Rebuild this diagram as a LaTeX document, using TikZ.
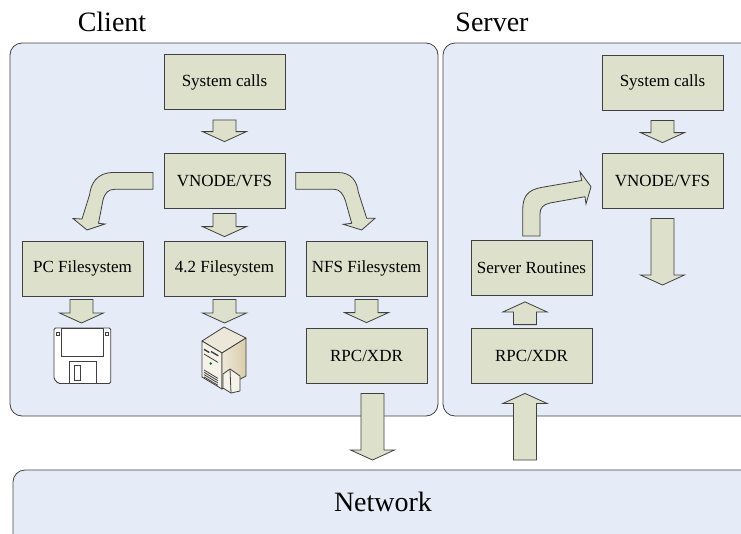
\documentclass[tikz,border=0pt]{standalone}
\usepackage{fontspec}
\setmainfont{Liberation Serif}
\usetikzlibrary{calc}
\definecolor{panelbg}{RGB}{230,236,247}
\definecolor{boxbg}{RGB}{221,224,203}
\definecolor{edge}{RGB}{64,64,64}
\definecolor{twfront}{RGB}{245,242,234}
\definecolor{twtop}{RGB}{236,231,216}
\definecolor{twside}{RGB}{218,205,172}
\newcommand{\barr}[4]
{
	\coordinate (as) at ($(#1)+(#2)$);
	\coordinate (ae) at ($(#3)+(#4)$);
	\coordinate (ah) at ($(ae)!10pt!(as)$);
	\draw[arrbody] ($(as)!11.5pt!90:(ae)$) -- ($(ah)!11.5pt!-90:(as)$) -- ($(ah)!22pt!-90:(as)$) -- (ae)
		-- ($(ah)!22pt!90:(as)$) -- ($(ah)!11.5pt!90:(as)$) -- ($(as)!11.5pt!-90:(ae)$) -- cycle;
}
\tikzset{
	panel/.style={draw=edge, fill=panelbg, rounded corners=12pt, line width=0.8pt},
	blk/.style={draw=edge, fill=boxbg, line width=0.8pt, minimum width=121pt, minimum height=55pt, inner sep=0pt, font=\fontsize{17}{20}\selectfont},
	arrbody/.style={draw=edge, fill=boxbg, line width=0.8pt, line join=miter},
	title/.style={font=\fontsize{28}{32}\selectfont}
}

\begin{document}
\begin{tikzpicture}[x=1pt,y=-1pt]
	\useasboundingbox (0,0) rectangle (741,533);
	\clip (0,0) rectangle (741,533);
	% panels
	\draw[panel] (10,43) rectangle (438,416);
	\draw[panel] (443,43) rectangle (770,416);
	\draw[panel] (13,470) rectangle (770,570);
	\node[title] (client) at (112,22) {Client};
	\node[title] (server) at (492,22) {Server};
	\node[title] (net) at (383,502) {Network};
	\coordinate (nettop) at (383,470);
	% client side
	\node[blk] (csys) at (224.5,82) {System calls};
	\node[blk] (cvfs) at (224.5,180.5) {VNODE/VFS};
	\node[blk] (cpc) at (82.5,268.5) {PC Filesystem};
	\node[blk] (cfs) at (224.5,268.5) {4.2 Filesystem};
	\node[blk] (cnfs) at (366.5,268.5) {NFS Filesystem};
	\node[blk] (crpc) at (366.5,355.5) {RPC/XDR};
	\coordinate (floppy) at (81.5,328);
	\coordinate (tower) at (224.5,328);
	% server side
	\node[blk] (ssys) at (662.5,82.5) {System calls};
	\node[blk] (svfs) at (662.5,180.5) {VNODE/VFS};
	\node[blk] (sroute) at (531.5,267.5) {Server Routines};
	\node[blk] (srpc) at (531.5,355.5) {RPC/XDR};
	\coordinate (sout) at (662.5,285);
	% straight arrows
	\barr{csys.south}{0,10}{cvfs.north}{0,-11}
	\barr{cvfs.south}{0,5}{cfs.north}{0,-4}
	\barr{cpc.south}{-1,3}{floppy}{0,-5}
	\barr{cfs.south}{0,3}{tower}{0,-5}
	\barr{cnfs.south}{0,3}{crpc.north}{0,-5}
	\barr{crpc.south}{6,10}{crpc.south |- nettop}{6,-10}
	\barr{srpc.south |- nettop}{-6.5,-10}{srpc.south}{-6.5,10}
	\barr{srpc.north}{-6.5,-3}{sroute.south}{-6.5,6.5}
	\barr{ssys.south}{0,10}{svfs.north}{0,-10}
	\barr{svfs.south}{0,10}{sout}{0,0}
	% bent arrows
	\draw[arrbody] (153,172.5) -- (114,172.5) .. controls (96,172.5) and (91,184) .. (89.5,195) -- (82,219)
		-- (73,218.5) -- (87,230) -- (105,224) -- (98.5,223.3) -- (103,200)
		.. controls (105,193) and (108,189.3) .. (115,189.3) -- (153,189.3) -- cycle;
	\draw[arrbody] (295.7,172.5) -- (338,172.5) .. controls (352,172.5) and (357,182) .. (358.3,192) -- (366.7,218.3)
		-- (375,218.3) -- (361.7,230) -- (343.3,224.3) -- (351.7,223.3) -- (345.5,201)
		.. controls (343,194) and (340,189.3) .. (334,189.3) -- (295.7,189.3) -- cycle;
	\draw[arrbody] (522.7,236) -- (522.7,210) .. controls (522.7,196) and (528,190) .. (541,187.5) -- (581.7,180.5)
		-- (580,171.7) -- (591,186.7) -- (586,204) -- (585,196.7) -- (550,203)
		.. controls (543,204.5) and (540,208) .. (540,214) -- (540,236) -- cycle;
	% floppy
	\begin{scope}[draw=edge, line width=0.9pt]
		\draw[fill=white, rounded corners=1.5pt] (54,328) -- (110.7,328) -- (110.7,383.5) -- (58.3,383.5) -- (54,379) -- cycle;
		\draw (61,328) rectangle (103.3,356);
		\draw (56.7,332.3) rectangle (59.7,335.6);
		\draw (105,332.3) rectangle (108,335.6);
		\draw (69.3,361.7) rectangle (96,383.5);
		\draw (74.3,365.7) rectangle (80.7,380);
	\end{scope}
	% tower
	\begin{scope}[draw=edge, line width=0.8pt, line join=round]
		\draw[fill=twtop] (202,341) -- (224,327) -- (246,338) -- (222,353) -- cycle;
		\draw[fill=twfront] (202,341) -- (222,353) -- (222,389) -- (202,377) -- cycle;
		\draw[left color=twtop, right color=twside] (222,353) -- (246,338) -- (246,376) -- (222,389) -- cycle;
		\draw[fill=twfront] (223,374) -- (230,369) -- (240,376) -- (240,391) -- (231,393) -- (223,388) -- cycle;
		\draw (230,369) -- (231,393);
		\draw[line width=1.4pt] (204,349.3) -- (209.3,352.5);
		\draw[line width=1.4pt] (211,351.5) -- (218.3,355.8);
		\draw (204,354) -- (218,362.4);
		\fill[green!45!black] (210.7,363.5) circle (1.4);
		\foreach \k in {0,...,3}
			\draw (204,370+2.3*\k) -- (218,378.4+2.3*\k);
	\end{scope}
\end{tikzpicture}
\end{document}
